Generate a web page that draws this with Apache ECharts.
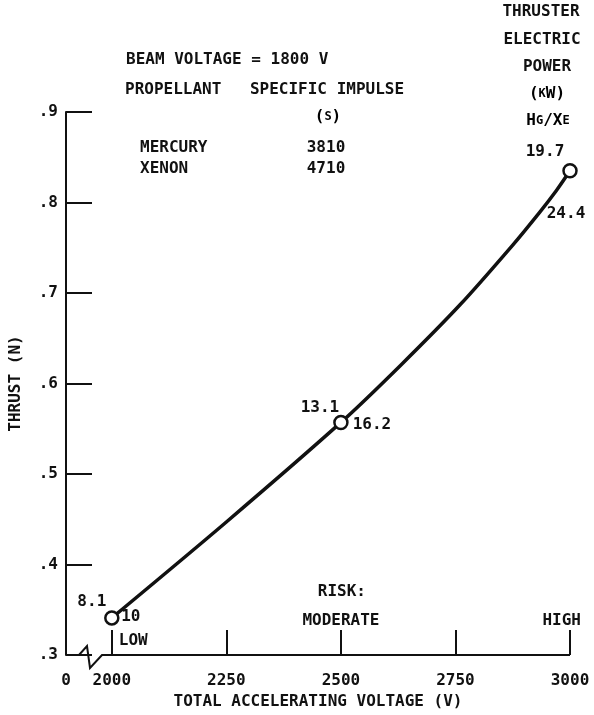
<!DOCTYPE html>
<html><head><meta charset="utf-8">
<script src="https://cdn.jsdelivr.net/npm/echarts@6/dist/echarts.min.js"></script>
<style>html,body{margin:0;padding:0;background:#fff}#c{width:594px;height:715px}</style>
</head><body><div id="c"></div>
<script>
// ---- data ----
const voltage = [2000, 2500, 3000];
const thrust = [0.341, 0.557, 0.835];
const hgPower = ['8.1', '13.1', '19.7'];
const xePower = ['10', '16.2', '24.4'];
const curveVoltage = [2000, 2250, 2500, 2630, 2760, 2875, 2935, 2970, 3000];
const curveThrust = [0.341, 0.447, 0.557, 0.620, 0.687, 0.753, 0.790, 0.813, 0.835];
const xTickValues = [2000, 2250, 2500, 2750, 3000];
const xLabelValues = [1900, 2000, 2250, 2500, 2750, 3000];
const propellants = ['MERCURY', 'XENON'];
const specificImpulse = ['3810', '4710'];

// ---- layout / style ----
const FONT = 'DejaVu Sans Mono';
const INK = '#111';
const hgOffsets = [[-20, -16], [-21, -15], [-25, -19]];
const xeOffsets = [[19, -1], [31, 2], [-4, 43]];
const txt = (size) => ({ fontFamily: FONT, fontWeight: 'bold', fontSize: size, color: INK });

const chart = echarts.init(document.getElementById('c'), null, { renderer: 'canvas' });

const option = {
  backgroundColor: '#fff',
  animation: false,
  grid: { left: 66, right: 24, top: 112, bottom: 58 },
  xAxis: {
    type: 'value', min: 1900, max: 3000,
    name: 'TOTAL ACCELERATING VOLTAGE (V)', nameLocation: 'middle', nameGap: 39,
    nameTextStyle: txt(16),
    axisLine: { show: false },
    axisTick: { show: true, inside: true, length: 25, customValues: xTickValues, lineStyle: { color: INK, width: 2 } },
    axisLabel: { ...txt(16), margin: 18, customValues: xLabelValues, formatter: v => (v === 1900 ? '0' : String(v)) },
    splitLine: { show: false }
  },
  yAxis: {
    type: 'value', min: 0.3, max: 0.9, interval: 0.1,
    name: 'THRUST (N)', nameLocation: 'middle', nameGap: 42, nameRotate: 90,
    nameTextStyle: txt(16),
    axisLine: { show: true, lineStyle: { color: INK, width: 2 } },
    axisTick: { show: true, inside: true, length: 26, lineStyle: { color: INK, width: 2 } },
    axisLabel: { ...txt(16), margin: 8, formatter: v => v.toFixed(1).replace(/^0/, '') },
    splitLine: { show: false }
  },
  series: [
    {
      type: 'line', smooth: 0.3, symbol: 'none',
      data: curveVoltage.map((v, i) => [v, curveThrust[i]]),
      lineStyle: { color: INK, width: 3.5 }, z: 2
    },
    {
      type: 'scatter', symbol: 'circle', symbolSize: 13, z: 5,
      itemStyle: { color: '#fff', borderColor: INK, borderWidth: 2.5, opacity: 1 },
      data: voltage.map((v, i) => ({ value: [v, thrust[i]], label: { offset: hgOffsets[i] } })),
      label: { show: true, position: 'inside', ...txt(16), formatter: p => hgPower[p.dataIndex] }
    },
    {
      type: 'scatter', symbolSize: 1, z: 4,
      itemStyle: { color: 'rgba(255,255,255,0)', opacity: 1 },
      data: voltage.map((v, i) => ({ value: [v, thrust[i]], label: { offset: xeOffsets[i] } })),
      label: { show: true, position: 'inside', ...txt(16), color: INK, opacity: 1, formatter: p => xePower[p.dataIndex] }
    }
  ]
};
chart.setOption(option);

function t(text, x, y, align, extra) {
  return { type: 'text', x, y, z: 10, style: Object.assign({ text, fill: INK, font: 'bold 16px "' + FONT + '"', textAlign: align || 'left', textVerticalAlign: 'middle' }, extra || {}) };
}
const sc = { a: { fontFamily: FONT, fontWeight: 'bold', fontSize: 16, color: INK }, b: { fontFamily: FONT, fontWeight: 'bold', fontSize: 12, color: INK } };

const p0 = chart.convertToPixel({ gridIndex: 0 }, [1900, 0.3]);
const pEnd = chart.convertToPixel({ gridIndex: 0 }, [3000, 0.3]);
const bx = p0[0], by = p0[1];
const px = v => chart.convertToPixel({ gridIndex: 0 }, [v, 0.3])[0];

const graphic = [
  { type: 'polyline', z: 10, shape: { points: [[bx, by], [bx + 13, by], [bx + 21, by - 9], [bx + 24, by + 13], [bx + 36, by], [pEnd[0], by]] }, style: { stroke: INK, lineWidth: 2, fill: null } },
  t('BEAM VOLTAGE = 1800 V', 126, 60),
  t('PROPELLANT', 125, 90),
  t('SPECIFIC IMPULSE', 327, 90, 'center'),
  { type: 'text', x: 328, y: 117, z: 10, style: { text: '{a|(}{b|S}{a|)}', rich: sc, textAlign: 'center', textVerticalAlign: 'middle' } },
  t(propellants[0], 140, 148), t(propellants[1], 140, 169),
  t(specificImpulse[0], 326, 148, 'center'), t(specificImpulse[1], 326, 169, 'center'),
  t('THRUSTER', 541, 12, 'center'),
  t('ELECTRIC', 542, 40, 'center'),
  t('POWER', 547, 67, 'center'),
  { type: 'text', x: 547, y: 94, z: 10, style: { text: '{a|(}{b|K}{a|W)}', rich: sc, textAlign: 'center', textVerticalAlign: 'middle' } },
  { type: 'text', x: 548, y: 121, z: 10, style: { text: '{a|H}{b|G}{a|/X}{b|E}', rich: sc, textAlign: 'center', textVerticalAlign: 'middle' } },
  t('RISK:', px(2500) + 1, 592, 'center'),
  t('LOW', px(2000) + 7, 641, 'left'),
  t('MODERATE', px(2500), 621, 'center'),
  t('HIGH', px(3000) + 11, 621, 'right')
];
chart.setOption({ graphic });
</script>
</body></html>
